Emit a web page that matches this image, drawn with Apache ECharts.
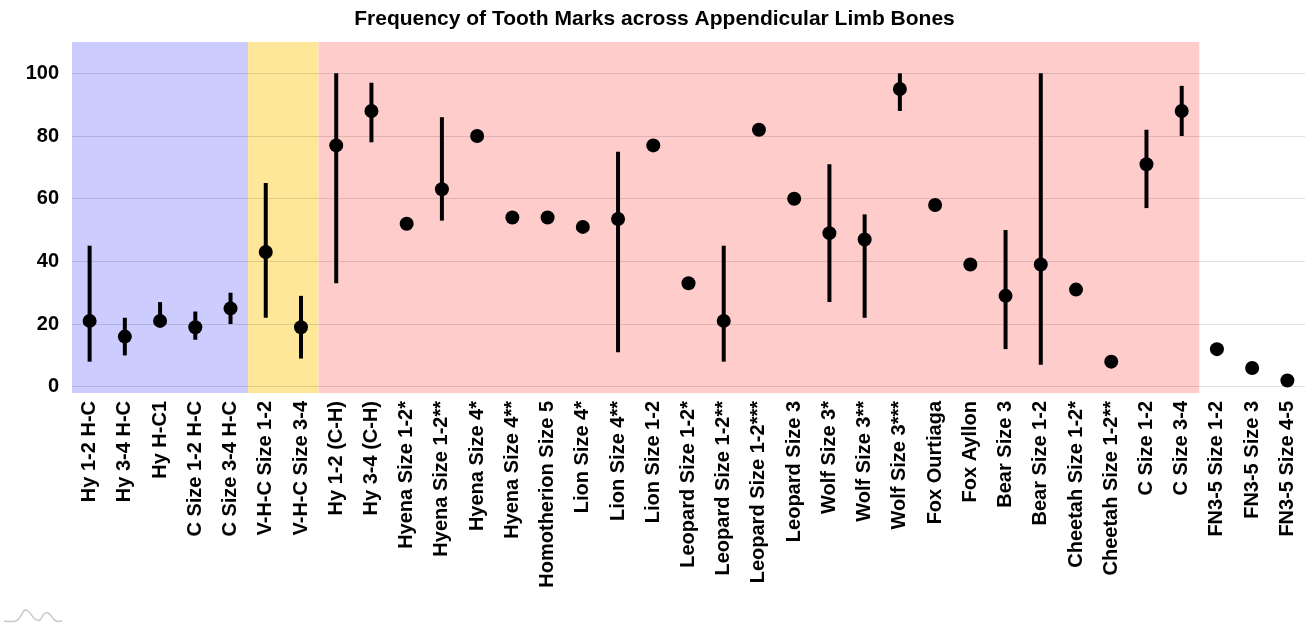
<!DOCTYPE html>
<html>
<head>
<meta charset="utf-8">
<script src="https://cdn.jsdelivr.net/npm/echarts@6/dist/echarts.min.js"></script>
<style>
html,body{margin:0;padding:0;background:#fff;}
#chart{width:1309px;height:626px;}
</style>
</head>
<body>
<div id="chart"></div>
<script>
const categories = ["Hy 1-2 H-C","Hy 3-4 H-C","Hy H-C1","C Size 1-2 H-C","C Size 3-4 H-C","V-H-C Size 1-2","V-H-C Size 3-4","Hy 1-2 (C-H)","Hy 3-4 (C-H)","Hyena Size 1-2*","Hyena Size 1-2**","Hyena Size 4*","Hyena Size 4**","Homotherion Size 5","Lion Size 4*","Lion Size 4**","Lion Size 1-2","Leopard Size 1-2*","Leopard Size 1-2**","Leopard Size 1-2***","Leopard Size 3","Wolf Size 3*","Wolf Size 3**","Wolf Size 3***","Fox Ourtiaga","Fox Ayllon","Bear Size 3","Bear Size 1-2","Cheetah Size 1-2*","Cheetah Size 1-2**","C Size 1-2","C Size 3-4","FN3-5 Size 1-2","FN3-5 Size 3","FN3-5 Size 4-5"];
const values = [21,16,21,19,25,43,19,77,88,52,63,80,54,54,51,53.5,77,33,21,82,60,49,47,95,58,39,29,39,31,8,71,88,12,6,2];
const errLow  = [8,10,20,15,20,22,9,33,78,null,53,null,null,null,null,11,null,null,8,null,null,27,22,88,null,null,12,7,null,null,57,80,null,null,null];
const errHigh = [45,22,27,24,30,65,29,100,97,null,86,null,null,null,null,75,null,null,45,null,null,71,55,100,null,null,50,100,null,null,82,96,null,null,null];
const yTicks = [0,20,40,60,80,100];
const bandStart = [0, 5, 7];
const bandEnd = [4, 6, 31];
const bandColors = ["#ccccff", "#ffe799", "#ffcccc"];

const errData = categories.map((c,i)=> errLow[i]==null ? null : [i, errLow[i], errHigh[i]]).filter(d=>d);
const bandData = bandStart.map((s,i)=>[s, bandEnd[i], i]);

const chart = echarts.init(document.getElementById('chart'), null, {renderer:'canvas'});
chart.setOption({
  animation:false,
  backgroundColor:'#ffffff',
  title:{
    text:'Frequency of Tooth Marks across Appendicular Limb Bones',
    left:'center', top:4,
    textStyle:{fontFamily:'Liberation Sans, Arial, sans-serif', fontWeight:'bold', fontSize:21, color:'#000'}
  },
  grid:{left:72, right:4, top:42, bottom:233},
  xAxis:{
    type:'category', data:categories, boundaryGap:true,
    axisLine:{show:false}, axisTick:{show:false},
    axisLabel:{rotate:90, interval:0, margin:8, color:'#000', fontWeight:'bold', fontSize:20, fontFamily:'Liberation Sans, Arial, sans-serif'}
  },
  yAxis:{
    type:'value', min:-2, max:110,
    axisLine:{show:false}, axisTick:{show:false}, splitLine:{show:false},
    axisLabel:{customValues:yTicks, margin:13, color:'#000', fontWeight:'bold', fontSize:20, fontFamily:'Liberation Sans, Arial, sans-serif'}
  },
  graphic:[{
    type:'polyline', silent:true, z:10,
    shape:{points:[[4,621],[16,621],[20,617],[25,610],[29,612],[35,619],[40,620],[44,614],[48,613],[52,617],[56,621],[62,621]], smooth:0.4},
    style:{fill:null, stroke:'#c8c8c8', lineWidth:1.5}
  }],
  series:[
    {
      type:'custom', z:1, silent:true, data:bandData,
      renderItem:function(params, api){
        const s = api.coord([api.value(0), 0]);
        const e = api.coord([api.value(1), 0]);
        const bw = api.size([1, 0])[0];
        const cs = params.coordSys;
        return {type:'rect', shape:{x:s[0]-bw/2, y:cs.y, width:e[0]-s[0]+bw, height:cs.height},
          style:{fill:bandColors[api.value(2)]}};
      }
    },
    {
      type:'line', data:[], z:2, silent:true,
      markLine:{silent:true, symbol:['none','none'], label:{show:false},
        lineStyle:{color:'rgba(0,0,0,0.12)', type:'solid', width:1},
        data: yTicks.map(v=>({yAxis:v}))}
    },
    {
      type:'custom', z:3, data:errData,
      renderItem:function(params, api){
        const p1 = api.coord([api.value(0), api.value(1)]);
        const p2 = api.coord([api.value(0), api.value(2)]);
        return {type:'line', shape:{x1:p1[0], y1:p1[1], x2:p2[0], y2:p2[1]}, style:{stroke:'#000', lineWidth:4}};
      }
    },
    {
      type:'scatter', z:4, data:values, symbol:'circle', symbolSize:14,
      itemStyle:{color:'#000', opacity:1}
    }
  ]
});
</script>
</body>
</html>
